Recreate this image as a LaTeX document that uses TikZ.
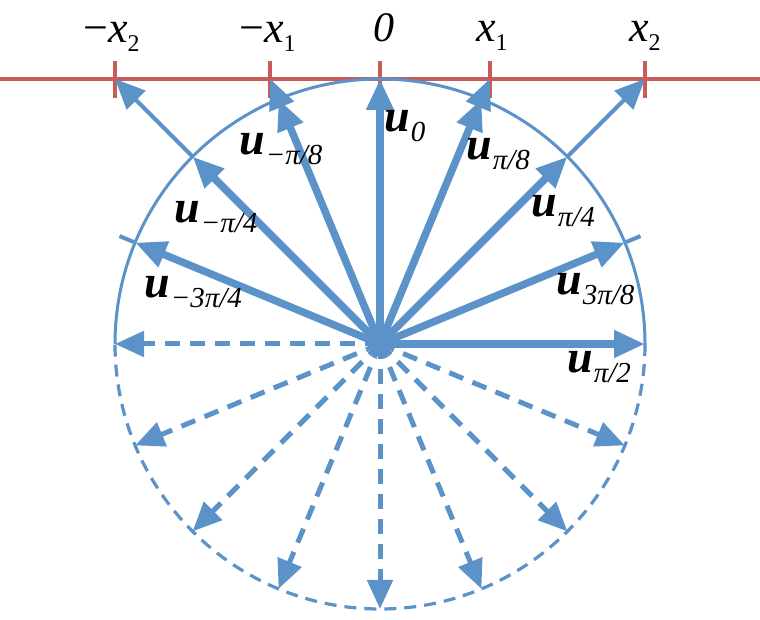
\documentclass[tikz,border=0pt]{standalone}
\usepackage{fontspec}
\setmainfont{Liberation Serif}
\usetikzlibrary{arrows.meta}
\definecolor{ublue}{RGB}{91,146,200}
\definecolor{axred}{RGB}{201,92,87}
\newcommand\xsb[1]{\raisebox{-9bp}{\fontsize{24bp}{24bp}\selectfont #1}}
\newcommand\usb[1]{\raisebox{-10bp}{\fontsize{29bp}{29bp}\selectfont\itshape #1}}
\newcommand\ulab[1]{{\fontsize{46bp}{46bp}\selectfont\bfseries\itshape u}\kern1bp\usb{#1}}
\begin{document}
\begin{tikzpicture}[x=1bp,y=1bp,
  thickarr/.style={draw=ublue, line width=7.5bp, -{Triangle[length=31bp,width=26bp]}},
  thinarr/.style={draw=ublue, line width=4bp, -{Triangle[length=30bp,width=26bp]}},
  thinline/.style={draw=ublue, line width=4bp},
  dasharr/.style={draw=ublue, line width=5bp, dash pattern=on 15bp off 10bp, -{Triangle[length=29bp,width=25bp]}},
  circsolid/.style={draw=ublue, line width=3bp},
  circdash/.style={draw=ublue, line width=3.2bp, dash pattern=on 12bp off 8bp},
  axis/.style={draw=axred, line width=4bp},
  tick/.style={draw=axred, line width=4.5bp},
  xlab/.style={inner sep=0pt, anchor=base west, font=\fontsize{44bp}{44bp}\selectfont},
  ulabel/.style={inner sep=0pt, anchor=base west}
]
\useasboundingbox (0,0) rectangle (760,620);
\coordinate (C) at (380,276);
% axis and ticks
\coordinate (AL) at (0,541);
\coordinate (AR) at (760,541);
\draw[axis] (AL) -- (AR);
\foreach \n/\xx in {tm2/115, tm1/270.2, t0/380, tp1/489.8, tp2/645}{
  \coordinate (\n a) at (\xx,522);
  \coordinate (\n b) at (\xx,559);
  \draw[tick] (\n a) -- (\n b);
}
% circle
\coordinate (CL) at ([shift={(180:265)}]C);
\coordinate (CR) at ([shift={(0:265)}]C);
\draw[circsolid] (CL) arc[start angle=180, end angle=0, radius=265];
\draw[circdash] (CR) arc[start angle=0, end angle=-180, radius=265];
% circle points
\foreach \n/\a in {pm3/157.5, pm2/135, pm1/112.5, p0/90, pp1/67.5, pp2/45, pp3/22.5, pp4/0}{
  \coordinate (\n) at ([shift={(\a:265)}]C);
}
% thin extensions
\draw[thinarr] (pm1) -- (tm1a |- AL);
\draw[thinarr] (pp1) -- (tp1a |- AL);
\draw[thinarr] (pm2) -- (tm2a |- AL);
\draw[thinarr] (pp2) -- (tp2a |- AL);
\coordinate (em3) at ([shift={(157.5:282)}]C);
\coordinate (ep3) at ([shift={(22.5:282)}]C);
\draw[thinline] (pm3) -- (em3);
\draw[thinline] (pp3) -- (ep3);
% dashed lower arrows
\foreach \n/\a in {d0/180, d1/-22.5, d2/-45, d3/-67.5, d4/-90, d5/-112.5, d6/-135, d7/-157.5}{
  \coordinate (\n) at ([shift={(\a:265)}]C);
  \draw[dasharr] (C) -- (\n);
}
% thick upper arrows
\foreach \n in {pm3, pm2, pm1, p0, pp1, pp2, pp3, pp4}{
  \draw[thickarr] (C) -- (\n);
}
% axis labels
\node[xlab] (lm2) at (83,577) {−\textit{x}\xsb{2}};
\node[xlab] (lm1) at (239,577) {−\textit{x}\xsb{1}};
\node[xlab, font=\fontsize{42bp}{42bp}\selectfont] (l0) at (373,578) {\textit{0}};
\node[xlab] (lp1) at (476,578) {\textit{x}\xsb{1}};
\node[xlab] (lp2) at (629,578) {\textit{x}\xsb{2}};
% vector labels
\node[ulabel] (u0) at (384,488) {\ulab{0}};
\node[ulabel] (up1) at (466,460) {\ulab{π/8}};
\node[ulabel] (up2) at (531,403) {\ulab{π/4}};
\node[ulabel] (up3) at (556,325) {\ulab{3π/8}};
\node[ulabel] (up4) at (567,247) {\ulab{π/2}};
\node[ulabel] (um1) at (239,465) {\ulab{−π/8}};
\node[ulabel] (um2) at (174,397) {\ulab{−π/4}};
\node[ulabel] (um3) at (144,322) {\ulab{−3π/4}};
\end{tikzpicture}
\end{document}
